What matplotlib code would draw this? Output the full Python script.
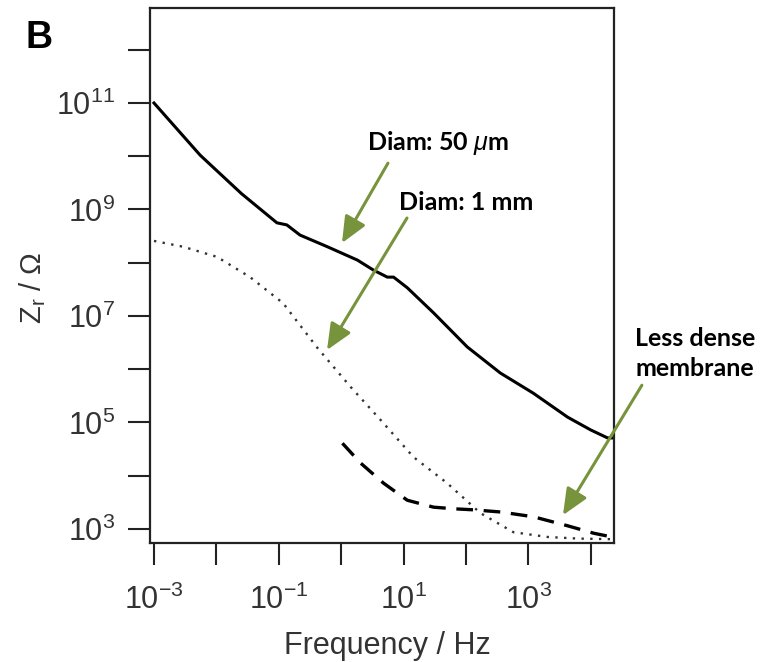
import numpy as np
import matplotlib
matplotlib.use("Agg")
import matplotlib.pyplot as plt

plt.rcParams['mathtext.fontset'] = 'custom'
plt.rcParams['mathtext.rm'] = 'Liberation Sans'
plt.rcParams['mathtext.it'] = 'Liberation Sans:italic'
plt.rcParams['font.family'] = ['Liberation Sans', 'DejaVu Sans']

# ---- data (log10 values) ----
solid_logf = [-3.0, -2.26, -1.6, -1.03, -0.87, -0.66, -0.22, 0.26, 0.52, 0.74, 0.84,
              1.06, 1.48, 2.02, 2.55, 3.08, 3.63, 4.0, 4.27, 4.38]
solid_logz = [11.0, 10.02, 9.3, 8.75, 8.71, 8.52, 8.30, 8.05, 7.86, 7.73, 7.73,
              7.53, 7.06, 6.42, 5.93, 5.55, 5.10, 4.86, 4.71, 4.71]

dotted_logf = [-3.0, -2.53, -1.99, -1.46, -0.93, -0.38, 0.15, 0.63, 1.16, 1.70,
               2.23, 2.76, 3.31, 3.8, 4.27, 4.38]
dotted_logz = [8.41, 8.30, 8.11, 7.73, 7.24, 6.40, 5.67, 5.05, 4.35, 3.86,
               3.30, 2.94, 2.85, 2.82, 2.81, 2.81]

dashed_logf = [0.02, 0.31, 0.68, 1.06, 1.48, 1.80, 2.12, 2.55, 3.08, 3.63, 4.05, 4.3]
dashed_logz = [4.61, 4.24, 3.86, 3.54, 3.41, 3.38, 3.36, 3.32, 3.23, 3.06, 2.92, 2.86]

x_tick_exps = [-3, -2, -1, 0, 1, 2, 3, 4]
x_tick_labels = [r'$\mathregular{10^{-3}}$', '', r'$\mathregular{10^{-1}}$', '',
                 r'$\mathregular{10^{1}}$', '', r'$\mathregular{10^{3}}$', '']
y_tick_exps = [3, 4, 5, 6, 7, 8, 9, 10, 11, 12]
y_tick_labels = [r'$\mathregular{10^{3}}$', '', r'$\mathregular{10^{5}}$', '',
                 r'$\mathregular{10^{7}}$', '', r'$\mathregular{10^{9}}$', '',
                 r'$\mathregular{10^{11}}$', '']

annot_texts = ['Diam: 50 $\\mu$m', 'Diam: 1 mm', 'Less dense\nmembrane']

W, H = 767, 662
fig = plt.figure(figsize=(W / 100, H / 100), dpi=100)
ax = fig.add_axes([150 / W, (H - 543) / H, 464 / W, 535 / H])

ax.plot(np.power(10.0, solid_logf), np.power(10.0, solid_logz), color='black', lw=2.2,
        solid_joinstyle='round')
ax.plot(np.power(10.0, dotted_logf), np.power(10.0, dotted_logz), color='#333333', lw=1.7,
        linestyle=(0, (1, 2.7)))
ax.plot(np.power(10.0, dashed_logf), np.power(10.0, dashed_logz), color='black', lw=2.4,
        linestyle=(0, (5, 3.2)))

ax.set_xscale('log')
ax.set_yscale('log')
ax.set_xlim(10 ** -3.064, 10 ** 4.373)
ax.set_ylim(10 ** 2.737, 10 ** 12.784)

ax.set_xticks([10.0 ** e for e in x_tick_exps])
ax.set_xticklabels(x_tick_labels)
ax.set_yticks([10.0 ** e for e in y_tick_exps])
ax.set_yticklabels(y_tick_labels)
ax.minorticks_off()
ax.tick_params(axis='both', direction='out', length=16, width=1.5, labelsize=22,
               labelcolor='#333333', color='#222222')
ax.tick_params(axis='x', pad=14)
ax.tick_params(axis='y', pad=9)
for s in ax.spines.values():
    s.set_linewidth(1.6)
    s.set_color('#222222')

fig.text(387 / W, 8 / H, 'Frequency / Hz', ha='center', va='baseline', fontsize=22,
         color='#333333')
fig.text(33 / W, 1 - 288 / H, r'Z$_\mathregular{r}$ / Ω', rotation=90, ha='center',
         va='center', fontsize=21, color='#333333')
fig.text(25 / W, 1 - 48 / H, 'B', fontsize=27, fontweight='bold', ha='left', va='baseline')

green = '#77933C'
tfont = dict(family=['Lato', 'DejaVu Sans'], fontweight='bold', fontsize=18, color='black')

def arrow(tail, head):
    ax.annotate('', xy=(10 ** head[0], 10 ** head[1]), xytext=(10 ** tail[0], 10 ** tail[1]),
                annotation_clip=False,
                arrowprops=dict(arrowstyle='-|>,head_length=0.8,head_width=0.35',
                                mutation_scale=20, color=green, lw=2.2,
                                shrinkA=0, shrinkB=0))

ax.text(10 ** 1.55, 10 ** 10.25, annot_texts[0], ha='center', va='center', **tfont)
arrow((0.75, 9.87), (0.013, 8.37))
ax.text(10 ** 2.0, 10 ** 9.14, annot_texts[1], ha='center', va='center', **tfont)
arrow((1.055, 8.84), (-0.227, 6.36))
ax.text(10 ** 5.67, 10 ** 6.29, annot_texts[2], ha='center', va='center',
        linespacing=1.35, clip_on=False, **tfont)
arrow((4.82, 5.70), (3.555, 3.26))

fig.savefig('out.png', dpi=100)
